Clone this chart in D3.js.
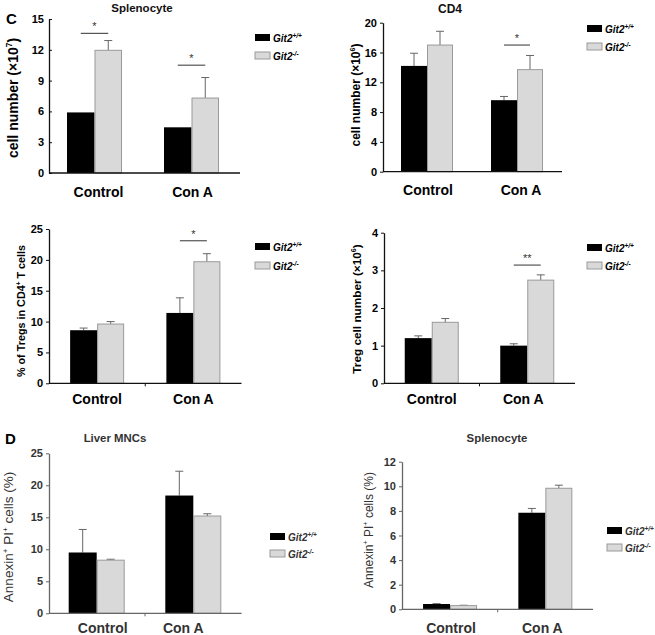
<!DOCTYPE html>
<html><head><meta charset="utf-8">
<script src="https://cdn.jsdelivr.net/npm/d3@7"></script>
<style>body{margin:0;background:#fff}svg{display:block;font-family:"Liberation Sans",Arial,sans-serif}</style>
</head><body><svg id="c" width="655" height="635"></svg>
<script>
// ---------- data ----------
const groups = ["Control", "Con A"];
const series = ["Git2+/+", "Git2-/-"];
const seriesSup = ["+/+", "-/-"];

// C: Splenocyte cell number (x10^7)
const splenoTicks = [0, 3, 6, 9, 12, 15];
const splenoWT = [5.9, 4.45], splenoWTErr = [0, 0];
const splenoKO = [11.95, 7.3], splenoKOErr = [0.95, 2.0];
const splenoSig = [{group: "Control", y: 13.6, label: "*"}, {group: "Con A", y: 10.5, label: "*"}];

// C: CD4 cell number (x10^6)
const cd4Ticks = [0, 4, 8, 12, 16, 20];
const cd4WT = [14.2, 9.6], cd4WTErr = [1.7, 0.5];
const cd4KO = [17.0, 13.7], cd4KOErr = [1.85, 1.9];
const cd4Sig = [{group: "Con A", y: 17.0, label: "*"}];

// C: % of Tregs in CD4+ T cells
const tregPctTicks = [0, 5, 10, 15, 20, 25];
const tregPctWT = [8.6, 11.4], tregPctWTErr = [0.35, 2.45];
const tregPctKO = [9.6, 19.7], tregPctKOErr = [0.4, 1.3];
const tregPctSig = [{group: "Con A", y: 23.1, label: "*"}];

// C: Treg cell number (x10^6)
const tregNumTicks = [0, 1, 2, 3, 4];
const tregNumWT = [1.2, 1.0], tregNumWTErr = [0.06, 0.05];
const tregNumKO = [1.62, 2.74], tregNumKOErr = [0.1, 0.14];
const tregNumSig = [{group: "Con A", y: 3.14, label: "**"}];

// D: Liver MNCs Annexin+ PI+ (%)
const liverTicks = [0, 5, 10, 15, 20, 25];
const liverWT = [9.5, 18.4], liverWTErr = [3.6, 3.8];
const liverKO = [8.3, 15.2], liverKOErr = [0.15, 0.35];
const liverSig = [];

// D: Splenocyte Annexin+ PI+ (%)
const splAnxTicks = [0, 2, 4, 6, 8, 10, 12];
const splAnxWT = [0.43, 7.85], splAnxWTErr = [0.03, 0.35];
const splAnxKO = [0.3, 9.84], splAnxKOErr = [0.03, 0.25];
const splAnxSig = [];

// ---------- layout ----------
const panels = [
  {ticks: splenoTicks, wt: splenoWT, wtE: splenoWTErr, ko: splenoKO, koE: splenoKOErr, sig: splenoSig,
   title: "Splenocyte", titleXY: [142, 12], titleSize: 11.5,
   ylab: [["cell number (×10", 0], ["7", 1], [")", 0]], ylabXY: [18, 98], ylabSize: 14, ylabBold: true,
   axisX: 49, band: [46, 240], yr: [173, 19], barW: 27.5, tickIn: true, midTick: false,
   legend: [255, 34, 18], xlabY: 197, xlabDx: [4, 1], dark: true},
  {ticks: cd4Ticks, wt: cd4WT, wtE: cd4WTErr, ko: cd4KO, koE: cd4KOErr, sig: cd4Sig,
   title: "CD4", titleXY: [450, 13], titleSize: 12,
   ylab: [["cell number (×10", 0], ["6", 1], [")", 0]], ylabXY: [360, 95], ylabSize: 12, ylabBold: true,
   axisX: 383, band: [382, 562], yr: [171.7, 22.7], barW: 26, tickIn: false, midTick: false,
   legend: [587, 25, 18], xlabY: 195, xlabDx: [1, 4], dark: true},
  {ticks: tregPctTicks, wt: tregPctWT, wtE: tregPctWTErr, ko: tregPctKO, koE: tregPctKOErr, sig: tregPctSig,
   title: null,
   ylab: [["% of Tregs in CD4", 0], ["+", 1], [" T cells", 0]], ylabXY: [25, 311], ylabSize: 10.8, ylabBold: true,
   axisX: 49, band: [49, 241.5], yr: [383.3, 229], barW: 27, tickIn: false, midTick: true,
   legend: [255, 243, 19], xlabY: 404, xlabDx: [0, 0], dark: true},
  {ticks: tregNumTicks, wt: tregNumWT, wtE: tregNumWTErr, ko: tregNumKO, koE: tregNumKOErr, sig: tregNumSig,
   title: null,
   ylab: [["Treg cell number (×10", 0], ["6", 1], [")", 0]], ylabXY: [361, 309], ylabSize: 11.8, ylabBold: true,
   axisX: 384, band: [384, 575], yr: [383.3, 232.7], barW: 27, tickIn: false, midTick: true,
   legend: [587, 244, 18], xlabY: 404, xlabDx: [0, -4], dark: true},
  {ticks: liverTicks, wt: liverWT, wtE: liverWTErr, ko: liverKO, koE: liverKOErr, sig: liverSig,
   title: "Liver MNCs", titleXY: [115, 442], titleSize: 11.4,
   ylab: [["Annexin", 0], ["+", 1], [" PI", 0], ["+", 1], [" cells (%)", 0]], ylabXY: [13, 537], ylabSize: 13.5, ylabBold: false,
   axisX: 49, band: [48.4, 241.6], yr: [613.3, 453.3], barW: 28, tickIn: false, midTick: true,
   legend: [270, 533, 17], xlabY: 633, xlabDx: [6, -10], dark: false},
  {ticks: splAnxTicks, wt: splAnxWT, wtE: splAnxWTErr, ko: splAnxKO, koE: splAnxKOErr, sig: splAnxSig,
   title: "Splenocyte", titleXY: [497, 442], titleSize: 11.4,
   ylab: [["Annexin", 0], ["+", 1], [" PI", 0], ["+", 1], [" cells (%)", 0]], ylabXY: [373, 530], ylabSize: 12, ylabBold: false,
   axisX: 402, band: [402.4, 593], yr: [609.3, 461.7], barW: 27, tickIn: false, midTick: true,
   legend: [607, 527, 17], xlabY: 633, xlabDx: [1, -3], dark: false}
];

const svg = d3.select("#c");
const BLACK = "#000", GRAY = "#d9d9d9", GRAYSTROKE = "#9a9a9a";

// panel letters
svg.append("text").attr("x", 6).attr("y", 24).attr("font-size", 15).attr("font-weight", "bold").text("C");
svg.append("text").attr("x", 5).attr("y", 444).attr("font-size", 15).attr("font-weight", "bold").text("D");

panels.forEach(p => {
  const g = svg.append("g");
  const ink = p.dark ? "#000" : "#333";
  const axisCol = p.dark ? "#111" : "#666";
  const maxV = p.ticks[p.ticks.length - 1];
  const y = d3.scaleLinear().domain([0, maxV]).range(p.yr);
  const step = (p.band[1] - p.band[0]) / groups.length;
  const pin = 1 - 2 * p.barW / step;
  const x = d3.scaleBand().domain(groups).range(p.band).paddingInner(pin).paddingOuter(pin / 2);
  const xs = d3.scaleBand().domain(series).range([0, x.bandwidth()]);

  const rows = [];
  groups.forEach((gname, i) => {
    rows.push({g: gname, s: series[0], v: p.wt[i], e: p.wtE[i]});
    rows.push({g: gname, s: series[1], v: p.ko[i], e: p.koE[i]});
  });

  // error bars (upper only)
  rows.filter(r => r.e > 0).forEach(r => {
    const cx = x(r.g) + xs(r.s) + xs.bandwidth() / 2;
    g.append("line").attr("x1", cx).attr("x2", cx).attr("y1", y(r.v)).attr("y2", y(r.v + r.e))
      .attr("stroke", "#666").attr("stroke-width", 1);
    g.append("line").attr("x1", cx - 4).attr("x2", cx + 4).attr("y1", y(r.v + r.e)).attr("y2", y(r.v + r.e))
      .attr("stroke", "#666").attr("stroke-width", 1);
  });

  g.selectAll("rect.bar").data(rows).join("rect").attr("class", "bar")
    .attr("x", r => x(r.g) + xs(r.s) + (r.s === series[1] ? 0.5 : 0))
    .attr("y", r => y(r.v))
    .attr("width", r => xs.bandwidth() - (r.s === series[1] ? 1 : 0))
    .attr("height", r => y(0) - y(r.v))
    .attr("fill", r => r.s === series[0] ? BLACK : GRAY)
    .attr("stroke", r => r.s === series[0] ? "none" : GRAYSTROKE)
    .attr("stroke-width", 1);

  // y axis
  const ya = d3.axisLeft(y).tickValues(p.ticks).tickFormat(d3.format("d"))
    .tickSize(p.tickIn ? -3 : 3).tickPadding(p.tickIn ? 5 : 3).tickSizeOuter(0);
  const yg = g.append("g").attr("transform", `translate(${p.axisX},0)`).call(ya);
  yg.select(".domain").attr("stroke", axisCol).attr("stroke-width", 1.3);
  yg.selectAll(".tick line").attr("stroke", axisCol);
  yg.selectAll(".tick text").attr("font-size", 11).attr("font-weight", "bold").attr("fill", ink)
    .attr("font-family", '"Liberation Sans",Arial,sans-serif');

  // x axis line
  g.append("line").attr("x1", p.axisX).attr("x2", p.band[1]).attr("y1", y(0)).attr("y2", y(0))
    .attr("stroke", axisCol).attr("stroke-width", 1.3);
  if (p.midTick) {
    const mx = (x(groups[0]) + x.bandwidth() + x(groups[1])) / 2;
    g.append("line").attr("x1", mx).attr("x2", mx).attr("y1", y(0)).attr("y2", y(0) + 3).attr("stroke", axisCol);
  }

  // category labels
  groups.forEach((gname, i) => {
    g.append("text").attr("x", x(gname) + x.bandwidth() / 2 + p.xlabDx[i]).attr("y", p.xlabY)
      .attr("text-anchor", "middle").attr("font-size", 14).attr("font-weight", "bold").attr("fill", ink).text(gname);
  });

  // significance
  p.sig.forEach(s => {
    const x1 = x(s.group) + xs(series[0]) + xs.bandwidth() / 2;
    const x2 = x(s.group) + xs(series[1]) + xs.bandwidth() / 2;
    g.append("line").attr("x1", x1).attr("x2", x2).attr("y1", y(s.y)).attr("y2", y(s.y))
      .attr("stroke", "#555").attr("stroke-width", 1.2);
    g.append("text").attr("x", (x1 + x2) / 2).attr("y", y(s.y) - 3).attr("text-anchor", "middle")
      .attr("font-size", 11).attr("fill", "#333").text(s.label);
  });

  // title
  if (p.title) {
    g.append("text").attr("x", p.titleXY[0]).attr("y", p.titleXY[1]).attr("text-anchor", "middle")
      .attr("font-size", p.titleSize).attr("font-weight", "bold").attr("fill", p.dark ? "#111" : "#333").text(p.title);
  }

  // y label
  const yl = g.append("text").attr("transform", `translate(${p.ylabXY[0]},${p.ylabXY[1]}) rotate(-90)`)
    .attr("text-anchor", "middle").attr("font-size", p.ylabSize)
    .attr("font-weight", p.ylabBold ? "bold" : "normal").attr("fill", ink);
  let prevSup = 0;
  p.ylab.forEach(([t, sup]) => {
    const ts = yl.append("tspan").text(t);
    const shift = p.ylabSize * 0.4;
    if (sup && !prevSup) ts.attr("dy", -shift).attr("font-size", p.ylabSize * 0.6);
    if (!sup && prevSup) ts.attr("dy", shift);
    prevSup = sup;
  });

  // legend
  const [lx, ly, lgap] = p.legend;
  series.forEach((s, i) => {
    const by = ly + i * lgap;
    g.append("rect").attr("x", lx).attr("y", by).attr("width", 15).attr("height", 7)
      .attr("fill", i === 0 ? BLACK : GRAY).attr("stroke", i === 0 ? "none" : GRAYSTROKE);
    const t = g.append("text").attr("x", lx + 18).attr("y", by + 7.5).attr("font-size", 10)
      .attr("font-style", "italic").attr("font-weight", "bold").attr("fill", ink);
    t.append("tspan").text("Git2");
    t.append("tspan").attr("dy", -4).attr("font-size", 6.5).text(seriesSup[i]);
  });
});
</script></body></html>
